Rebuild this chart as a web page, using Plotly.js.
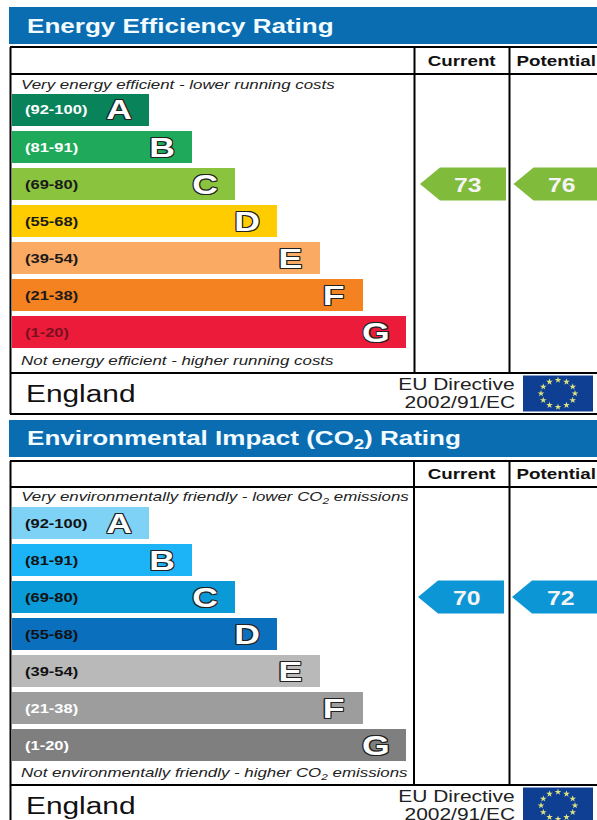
<!DOCTYPE html>
<html><head><meta charset="utf-8">
<script src="https://cdn.plot.ly/plotly-3.0.1.min.js"></script>
<style>html,body{margin:0;padding:0;background:#fff;overflow:hidden}</style>
</head><body><div id="chart" style="width:597px;height:820px"></div>
<script>
const bands = ["A","B","C","D","E","F","G"];
const ranges = ["(92-100)","(81-91)","(69-80)","(55-68)","(39-54)","(21-38)","(1-20)"];
const bandMinima = [92,81,69,55,39,21,1];
const barLengths = [137,180,223,265,308,351,394];
const energyColors = ["#08835a","#1eaa5a","#8ac33d","#ffcc00","#fbaa63","#f58220","#ed1b3a"];
const energyRangeColors = ["#ffffff","#ffffff","#1a1a1a","#1a1a1a","#1a1a1a","#1a1a1a","#7a1020"];
const envColors = ["#7dd2f5","#1cb4f7","#0b9ad8","#0a6fbd","#b9b9b9","#9d9d9d","#7f7f7f"];
const envRangeColors = ["#111111","#111111","#111111","#111111","#111111","#ffffff","#ffffff"];
const energyRatings = [73,76];
const envRatings = [70,72];
const energyArrowColor = "#80bb3b";
const envArrowColor = "#0d96d6";
const W = 597, H = 820, PITCH = 37, FONT = "Liberation Sans", STRETCH = 1.27;

const panels = [
  {title:"Energy Efficiency Rating", top:7, head:37, frame:47, sub:74, barTop:91.5, foot:373, end:414,
   left:"Very energy efficient - lower running costs", right:"Not energy efficient - higher running costs",
   colors:energyColors, rc:energyRangeColors, ratings:energyRatings, arrow:energyArrowColor, yax:"y", v1:414.5, tipA:420, tipB:513.5, labelOff:48, capTop:84, capBot:360, start:12},
  {title:"Environmental Impact (CO<sub>2</sub>) Rating", top:420, head:37, frame:461, sub:487, barTop:504.5, foot:785, end:827,
   left:"Very environmentally friendly - lower CO<sub>2</sub> emissions", right:"Not environmentally friendly - higher CO<sub>2</sub> emissions",
   colors:envColors, rc:envRangeColors, ratings:envRatings, arrow:envArrowColor, yax:"y2", v1:414, tipA:418, tipB:512, labelOff:49, capTop:497, capBot:773, start:12}
];

const data = [], shapes = [], annotations = [];
const txt = (x,y,text,size,color,extra) => annotations.push(Object.assign({
  x, y, xref:"x", yref:"y3", text, showarrow:false, xanchor:"left", yanchor:"middle",
  font:{family:FONT,size,color}
}, extra||{}));
const hline = (x0,x1,y) => shapes.push({type:"line",xref:"x",yref:"y3",x0,x1,y0:y,y1:y,line:{color:"#000",width:2}});
const vline = (x,y0,y1) => shapes.push({type:"line",xref:"x",yref:"y3",x0:x,x1:x,y0,y1,line:{color:"#000",width:2}});
const OUTLINE = "1px 0 0 #222,-1px 0 0 #222,0 1px 0 #222,0 -1px 0 #222,1px 1px 0 #222,-1px -1px 0 #222,1px -1px 0 #222,-1px 1px 0 #222";

panels.forEach((p) => {
  shapes.push({type:"rect",xref:"x",yref:"y3",x0:9,x1:W,y0:p.top,y1:p.top+p.head,fillcolor:"#0a6db2",line:{width:0},layer:"below"});
  txt(25,p.top+18.5,"<b>"+p.title+"</b>",20.5,"#f2fbff");
  hline(10,W,p.frame); hline(10,W,p.sub); hline(10,W,p.foot);
  if (p.end < H) hline(10,W,p.end);
  vline(10.5,p.frame,p.end);
  vline(p.v1,p.frame,p.foot); vline(509.5,p.frame,p.foot);
  txt(462,(p.frame+p.sub)/2,"<b>Current</b>",14.8,"#111",{xanchor:"center"});
  txt(556,(p.frame+p.sub)/2,"<b>Potential</b>",14.8,"#111",{xanchor:"center"});
  txt(19,p.capTop,"<i>"+p.left+"</i>",13.3,"#222");
  txt(19,p.capBot,"<i>"+p.right+"</i>",13.3,"#222");
  data.push({type:"bar",orientation:"h",y:bands,x:barLengths,base:p.start,xaxis:"x",yaxis:p.yax,
    marker:{color:p.colors,line:{width:0}},hoverinfo:"skip",showlegend:false});
  bands.forEach((b,i) => {
    annotations.push({x:23,y:b,xref:"x",yref:p.yax,text:"<b>"+ranges[i]+"</b>",showarrow:false,xanchor:"left",yanchor:"middle",
      font:{family:FONT,size:13,color:p.rc[i]}});
    annotations.push({x:p.start+barLengths[i]-30,y:b,xref:"x",yref:p.yax,text:"<b>"+b+"</b>",showarrow:false,xanchor:"center",yanchor:"middle",
      font:{family:FONT,size:28,color:"#ffffff",shadow:OUTLINE}});
  });
  p.ratings.forEach((r,k) => {
    const idx = bandMinima.findIndex(m => r >= m);
    const cy = p.barTop + (idx+0.5)*PITCH;
    const tip = k===0 ? p.tipA : p.tipB;
    const xe = k===0 ? tip+86 : W+4;
    shapes.push({type:"path",xref:"x",yref:"y3",fillcolor:p.arrow,line:{width:0},
      path:`M${tip},${cy} L${tip+20},${cy-16.5} L${xe},${cy-16.5} L${xe},${cy+16.5} L${tip+20},${cy+16.5} Z`});
    txt(tip+p.labelOff,cy+0.5,"<b>"+r+"</b>",19.5,"#f4f4f4",{xanchor:"center"});
  });
  txt(24,p.foot+20.5,"England",23.5,"#111");
  txt(517,p.foot+10.5,"EU Directive",16.5,"#222",{xanchor:"right"});
  txt(517,p.foot+28.5,"2002/91/EC",16.5,"#222",{xanchor:"right"});
  const fTop = p.foot+2.5, fCy = fTop+18;
  shapes.push({type:"rect",xref:"x",yref:"y3",x0:523,x1:593,y0:fTop,y1:fTop+36,fillcolor:"#0f3f93",line:{width:0},layer:"below"});
  const sx=[],sy=[];
  for (let a=0;a<12;a++){ sx.push(558+17*Math.sin(a*Math.PI/6)); sy.push(fCy-13.5*Math.cos(a*Math.PI/6)); }
  data.push({type:"scatter",mode:"markers",x:sx,y:sy,xaxis:"x",yaxis:"y3",marker:{symbol:"star",size:5,color:"#dfe37e",line:{width:0}},hoverinfo:"skip",showlegend:false});
});

const dom = (top) => [1-(top+7*PITCH)/H, 1-top/H];
const layout = {
  width:W, height:H, margin:{l:0,r:0,t:0,b:0,pad:0}, paper_bgcolor:"#fff", plot_bgcolor:"rgba(0,0,0,0)",
  bargap:0.135, showlegend:false, hovermode:false,
  xaxis:{range:[0,W],visible:false,fixedrange:true,anchor:"y"},
  yaxis:{domain:dom(panels[0].barTop),type:"category",categoryorder:"array",categoryarray:bands,range:[6.5,-0.5],visible:false,fixedrange:true,anchor:"x"},
  yaxis2:{domain:dom(panels[1].barTop),type:"category",categoryorder:"array",categoryarray:bands,range:[6.5,-0.5],visible:false,fixedrange:true,anchor:"x"},
  yaxis3:{domain:[0,1],range:[H,0],visible:false,fixedrange:true,anchor:"x"},
  shapes, annotations
};
Plotly.newPlot("chart",data,layout,{displayModeBar:false,staticPlot:true}).then((gd) => {
  // the reference artwork is a horizontally stretched scan: widen each real text about its anchor
  gd.querySelectorAll(".annotation").forEach((g) => {
    const a = annotations[+g.getAttribute("data-index")];
    const t = g.querySelector("text");
    if (!a || !t) return;
    const b = t.getBBox();
    const x0 = a.xanchor==="left" ? b.x : a.xanchor==="right" ? b.x+b.width : b.x+b.width/2;
    t.setAttribute("transform",`translate(${x0} 0) scale(${STRETCH} 1) translate(${-x0} 0)`);
  });
});
</script></body></html>
